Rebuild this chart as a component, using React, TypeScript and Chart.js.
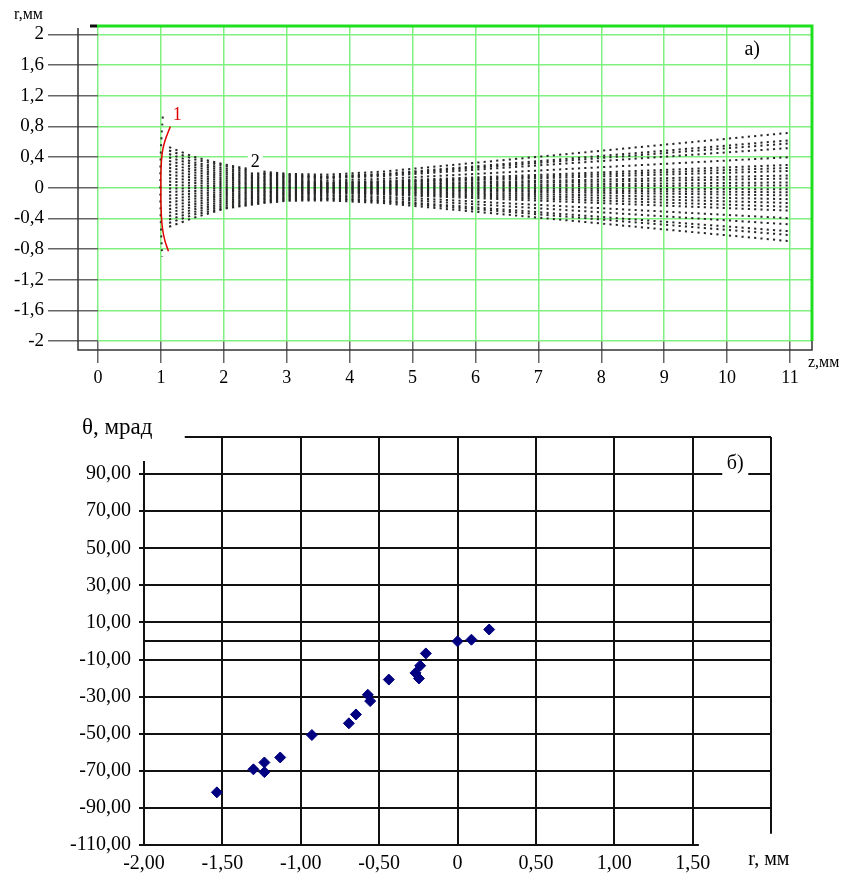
import React, { useEffect, useRef } from 'react';
import { Chart, registerables } from 'chart.js';
Chart.register(...registerables);

const SERIF = '"Liberation Serif", "Times New Roman", serif';

// ---------- Chart (a): beam trajectories ----------
const zTicks = [0, 1, 2, 3, 4, 5, 6, 7, 8, 9, 10, 11];
const zTickLabels = ['0', '1', '2', '3', '4', '5', '6', '7', '8', '9', '10', '11'];
const rTicks = [-2, -1.6, -1.2, -0.8, -0.4, 0, 0.4, 0.8, 1.2, 1.6, 2];
const rTickLabels = ['-2', '-1,6', '-1,2', '-0,8', '-0,4', '0', '0,4', '0,8', '1,2', '1,6', '2'];

// z nodes (mm) where each ray's radius is read
const rayZ = [1.13, 1.53, 2.03, 2.63, 3.03, 3.63, 4.53, 11.03];
// sampling step of the dotted trajectories (mm)
const rayStep = 0.1;
// r (mm) of every ray at the nodes above
const rays = [
  [0.53, 0.4, 0.3, 0.21, 0.18, 0.17, 0.21, 0.72],
  [0.485, 0.37, 0.28, 0.19, 0.165, 0.146, 0.18, 0.62],
  [0.44, 0.33, 0.25, 0.18, 0.15, 0.137, 0.168, 0.58],
  [0.395, 0.3, 0.225, 0.16, 0.134, 0.123, 0.151, 0.52],
  [0.35, 0.266, 0.2, 0.14, 0.119, 0.094, 0.116, 0.4],
  [0.305, 0.232, 0.174, 0.122, 0.104, 0.071, 0.087, 0.3],
  [0.26, 0.198, 0.148, 0.104, 0.088, 0.061, 0.075, 0.26],
  [0.215, 0.163, 0.123, 0.086, 0.073, 0.052, 0.064, 0.22],
  [0.17, 0.129, 0.097, 0.068, 0.058, 0.038, 0.046, 0.16],
  [0.125, 0.095, 0.071, 0.05, 0.043, 0.028, 0.035, 0.12],
  [0.08, 0.061, 0.046, 0.032, 0.027, 0.017, 0.02, 0.07],
  [0.035, 0.027, 0.02, 0.014, 0.012, 0.007, 0.009, 0.03],
  [-0.01, -0.008, -0.006, -0.004, -0.003, -0.005, -0.006, -0.02],
  [-0.055, -0.042, -0.031, -0.022, -0.019, -0.014, -0.017, -0.06],
  [-0.1, -0.076, -0.057, -0.04, -0.034, -0.024, -0.029, -0.1],
  [-0.145, -0.11, -0.083, -0.058, -0.049, -0.035, -0.044, -0.15],
  [-0.19, -0.144, -0.108, -0.076, -0.065, -0.047, -0.058, -0.2],
  [-0.235, -0.179, -0.134, -0.094, -0.08, -0.059, -0.073, -0.25],
  [-0.28, -0.213, -0.16, -0.112, -0.095, -0.071, -0.087, -0.3],
  [-0.325, -0.247, -0.185, -0.13, -0.11, -0.094, -0.116, -0.4],
  [-0.37, -0.281, -0.211, -0.148, -0.126, -0.113, -0.139, -0.48],
  [-0.415, -0.315, -0.237, -0.166, -0.141, -0.135, -0.165, -0.57],
  [-0.46, -0.35, -0.262, -0.184, -0.156, -0.146, -0.18, -0.62],
  [-0.51, -0.39, -0.27, -0.2, -0.17, -0.165, -0.2, -0.7],
];

// curve 1 (red)
const curve1Z = [1.15, 1.06, 1.02, 1.0, 1.0, 1.0, 1.02, 1.06, 1.12];
const curve1R = [0.8, 0.6, 0.45, 0.2, 0, -0.2, -0.5, -0.68, -0.83];
// dotted emitter edge
const edgeZ = [1.03, 1.0, 0.99, 1.0, 1.02];
const edgeR = [0.93, 0.5, 0, -0.5, -0.9];

// ---------- Chart (б): theta vs r ----------
const scatterR = [-1.535, -1.302, -1.232, -1.232, -1.131, -0.929, -0.693, -0.648, -0.572, -0.557, -0.438, -0.268, -0.238, -0.246, -0.202, 0.0, 0.089, 0.202];
const scatterTheta = [-81.6, -69.2, -65.5, -70.7, -62.8, -50.7, -44.4, -39.6, -29.0, -32.4, -20.8, -17.2, -13.3, -20.2, -6.7, -0.2, 0.7, 6.2];
const bxTicks = [-2, -1.5, -1, -0.5, 0, 0.5, 1, 1.5, 2];
const bxTickLabels = ['-2,00', '-1,50', '-1,00', '-0,50', '0', '0,50', '1,00', '1,50', ''];
const byTicks = [-110, -90, -70, -50, -30, -10, 0, 10, 30, 50, 70, 90, 110];
const byTickLabels = ['-110,00', '-90,00', '-70,00', '-50,00', '-30,00', '-10,00', '', '10,00', '30,00', '50,00', '70,00', '90,00', ''];

function label(ctx: CanvasRenderingContext2D, text: string, x: number, y: number, font: string, color: string, align: CanvasTextAlign = 'center', bg = false) {
  ctx.save();
  ctx.font = font;
  ctx.textAlign = align;
  ctx.textBaseline = 'middle';
  if (bg) {
    const w = ctx.measureText(text).width;
    const x0 = align === 'center' ? x - w / 2 : align === 'left' ? x : x - w;
    ctx.fillStyle = '#fff';
    ctx.fillRect(x0 - 3, y - 10, w + 6, 20);
  }
  ctx.fillStyle = color;
  ctx.fillText(text, x, y);
  ctx.restore();
}

// dash pattern of a ray segment so that dots fall on columns every rayStep in z
function segmentDash(c: any) {
  const xs = c.chart.scales.x;
  const period = Math.abs(xs.getPixelForValue(rayStep) - xs.getPixelForValue(0));
  const dx = c.p1.x - c.p0.x, dy = c.p1.y - c.p0.y;
  const f = dx === 0 ? 1 : Math.hypot(dx, dy) / Math.abs(dx);
  const on = 2.1;
  return [on * f, (period - on) * f];
}

const topDecor = {
  id: 'topDecor',
  beforeDatasetsDraw(chart: any) {
    const { ctx, chartArea: a } = chart;
    ctx.save();
    ctx.strokeStyle = '#333';
    ctx.lineWidth = 1.5;
    ctx.beginPath();
    ctx.moveTo(a.left - 20, a.top + 2);
    ctx.lineTo(a.left - 20, a.bottom + 9);
    ctx.lineTo(a.right, a.bottom + 9);
    ctx.lineTo(a.right, a.bottom);
    ctx.stroke();
    ctx.strokeStyle = '#1fe01f';
    ctx.lineWidth = 3;
    ctx.beginPath();
    ctx.moveTo(a.left - 1, a.top);
    ctx.lineTo(a.right, a.top);
    ctx.lineTo(a.right, a.bottom);
    ctx.stroke();
    ctx.strokeStyle = '#111';
    ctx.beginPath();
    ctx.moveTo(a.left - 8, a.top);
    ctx.lineTo(a.left - 1, a.top);
    ctx.stroke();
    ctx.restore();
  },
  afterDraw(chart: any) {
    const { ctx, chartArea: a, scales } = chart;
    const x = scales.x, y = scales.y;
    const f18 = `18px ${SERIF}`;
    label(ctx, '1', x.getPixelForValue(1.26), y.getPixelForValue(0.95), f18, '#e00000', 'center', true);
    label(ctx, '2', x.getPixelForValue(2.5), y.getPixelForValue(0.33), f18, '#000', 'center', true);
    label(ctx, 'a)', x.getPixelForValue(10.4), y.getPixelForValue(1.8), `20px ${SERIF}`, '#000', 'center', true);
    label(ctx, 'r,мм', 14, 15, `16px ${SERIF}`, '#000', 'left');
    label(ctx, 'z,мм', a.right - 4, a.bottom + 22, `16px ${SERIF}`, '#000', 'left');
  },
};

const botDecor = {
  id: 'botDecor',
  beforeDatasetsDraw(chart: any) {
    const { ctx, chartArea: a, scales } = chart;
    const x = scales.x, y = scales.y;
    ctx.save();
    ctx.strokeStyle = '#111';
    ctx.lineWidth = 2;
    ctx.beginPath();
    ctx.moveTo(a.left, y.getPixelForValue(97));
    ctx.lineTo(a.left, a.bottom);
    ctx.moveTo(a.left, a.bottom);
    ctx.lineTo(x.getPixelForValue(1.54), a.bottom);
    ctx.moveTo(x.getPixelForValue(-1.74), a.top);
    ctx.lineTo(a.right, a.top);
    ctx.moveTo(a.right, a.top);
    ctx.lineTo(a.right, y.getPixelForValue(-104));
    ctx.stroke();
    ctx.restore();
  },
  afterDraw(chart: any) {
    const { ctx, scales } = chart;
    const x = scales.x, y = scales.y;
    ctx.save();
    ctx.fillStyle = '#fff';
    const cx = x.getPixelForValue(1.772), cy = y.getPixelForValue(95.7);
    ctx.fillRect(cx - 13, cy - 12, 26, 25);
    ctx.restore();
    label(ctx, 'б)', cx, cy, `20px ${SERIF}`, '#000');
    label(ctx, 'θ, мрад', 82, 33, `23px ${SERIF}`, '#000', 'left');
    label(ctx, 'r, мм', x.getPixelForValue(1.855), y.getPixelForValue(-110) + 15, `20px ${SERIF}`, '#000', 'left');
  },
};

export default function App() {
  const topRef = useRef<HTMLCanvasElement>(null);
  const botRef = useRef<HTMLCanvasElement>(null);

  useEffect(() => {
    const rayDatasets = rays.map((r) => ({
      data: rayZ.map((z, i) => ({ x: z, y: r[i] })),
      showLine: true,
      borderColor: '#262626',
      borderWidth: 2,
      borderDash: [2.1, 4.2],
      segment: { borderDash: segmentDash },
      pointRadius: 0,
      tension: 0,
      order: 3,
    }));
    const top = new Chart(topRef.current!, {
      type: 'scatter',
      data: {
        datasets: [
          {
            data: curve1Z.map((z, i) => ({ x: z, y: curve1R[i] })),
            showLine: true,
            borderColor: '#e00000',
            borderWidth: 1.5,
            pointRadius: 0,
            tension: 0.4,
            order: 0,
          },
          {
            data: edgeZ.map((z, i) => ({ x: z, y: edgeR[i] })),
            showLine: true,
            borderColor: '#333',
            borderWidth: 2,
            borderDash: [2, 5],
            pointRadius: 0,
            tension: 0.4,
            order: 1,
          },
          ...rayDatasets,
        ] as any,
      },
      options: {
        responsive: false,
        animation: false,
        events: [],
        layout: { padding: { top: 26, right: 38, left: 0, bottom: 0 } },
        plugins: { legend: { display: false }, tooltip: { enabled: false } },
        scales: {
          x: {
            type: 'linear',
            min: 0,
            max: 11.35,
            afterBuildTicks: (s: any) => { s.ticks = zTicks.map((v) => ({ value: v })); },
            afterFit: (s: any) => { s.height = 54; },
            border: { display: false },
            grid: { color: '#80f080', lineWidth: 1.5, tickColor: '#666', tickLength: 22, tickWidth: 1.5 },
            ticks: {
              autoSkip: false, maxRotation: 0, padding: 4, color: '#000',
              font: { family: SERIF, size: 18 },
              callback: (v: any) => zTickLabels[zTicks.indexOf(v)] ?? '',
            },
          },
          y: {
            type: 'linear',
            min: -2,
            max: 2.11,
            afterBuildTicks: (s: any) => { s.ticks = rTicks.map((v) => ({ value: v })); },
            afterFit: (s: any) => { s.width = 98; },
            border: { display: false },
            grid: { color: '#80f080', lineWidth: 1.5, tickColor: '#666', tickLength: 50, tickWidth: 1.5 },
            ticks: {
              autoSkip: false, padding: 4, color: '#000',
              font: { family: SERIF, size: 19 },
              callback: (v: any) => rTickLabels[rTicks.indexOf(v)] ?? '',
            },
          },
        },
      } as any,
      plugins: [topDecor],
    });

    const bot = new Chart(botRef.current!, {
      type: 'scatter',
      data: {
        datasets: [
          {
            data: scatterR.map((r, i) => ({ x: r, y: scatterTheta[i] })),
            pointStyle: 'rectRot',
            pointRadius: 5.5,
            backgroundColor: '#000080',
            borderColor: '#000080',
            borderWidth: 1,
          },
        ] as any,
      },
      options: {
        responsive: false,
        animation: false,
        events: [],
        layout: { padding: { top: 42, right: 79, left: 0, bottom: 0 } },
        plugins: { legend: { display: false }, tooltip: { enabled: false } },
        scales: {
          x: {
            type: 'linear',
            min: -2,
            max: 2,
            afterBuildTicks: (s: any) => { s.ticks = bxTicks.map((v) => ({ value: v })); },
            afterFit: (s: any) => { s.height = 36; },
            border: { display: false },
            grid: {
              color: (c: any) => (c.tick && (c.tick.value === -2 || c.tick.value === 2) ? 'rgba(0,0,0,0)' : '#111'),
              lineWidth: 2,
              drawTicks: false,
            },
            ticks: {
              autoSkip: false, maxRotation: 0, padding: 7, color: '#000',
              font: { family: SERIF, size: 20 },
              callback: (v: any) => bxTickLabels[bxTicks.indexOf(v)] ?? '',
            },
          },
          y: {
            type: 'linear',
            min: -110,
            max: 110,
            afterBuildTicks: (s: any) => { s.ticks = byTicks.map((v) => ({ value: v })); },
            afterFit: (s: any) => { s.width = 144; },
            border: { display: false },
            grid: {
              color: (c: any) => (c.tick && (c.tick.value === -110 || c.tick.value === 110) ? 'rgba(0,0,0,0)' : '#111'),
              tickColor: (c: any) => (c.tick && (c.tick.value === 0 || c.tick.value === 110) ? 'rgba(0,0,0,0)' : '#111'),
              lineWidth: 2,
              tickLength: 5,
            },
            ticks: {
              autoSkip: false, padding: 8, color: '#000',
              font: { family: SERIF, size: 20 },
              callback: (v: any) => byTickLabels[byTicks.indexOf(v)] ?? '',
            },
          },
        },
      } as any,
      plugins: [botDecor],
    });

    return () => {
      top.destroy();
      bot.destroy();
    };
  }, []);

  return (
    <div style={{ position: 'absolute', left: 0, top: 0, width: 850, height: 881, background: '#fff' }}>
      <canvas ref={topRef} width={850} height={395} style={{ position: 'absolute', left: 0, top: 0, width: 850, height: 395 }} />
      <canvas ref={botRef} width={850} height={486} style={{ position: 'absolute', left: 0, top: 395, width: 850, height: 486 }} />
    </div>
  );
}
